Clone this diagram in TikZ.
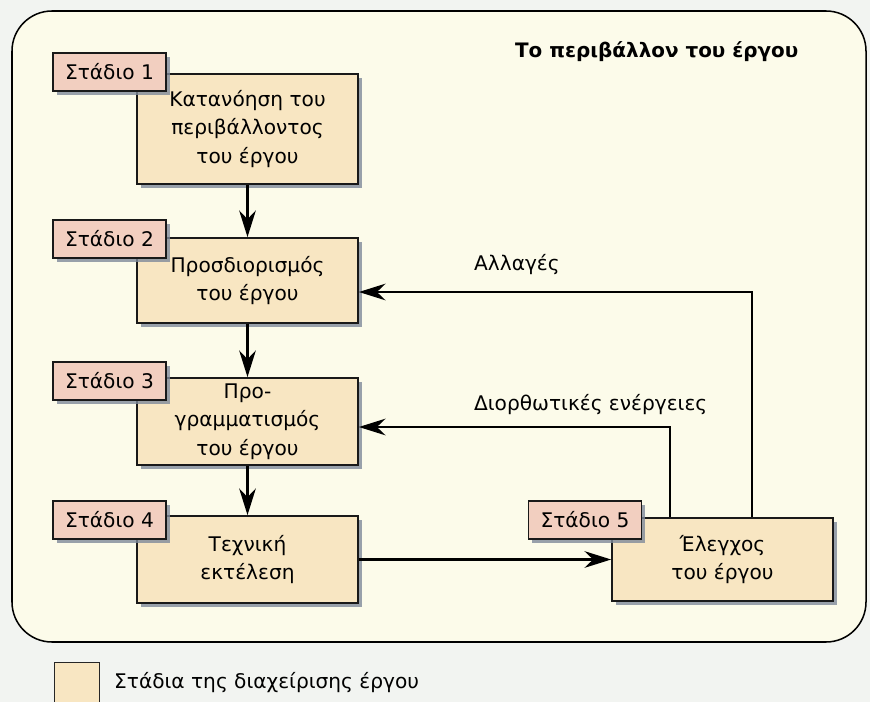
\documentclass[tikz,border=0pt]{standalone}
\usepackage{fontspec}
\setmainfont{DejaVu Sans}
\usetikzlibrary{arrows.meta}
\usetikzlibrary{shadows}
\definecolor{pagebg}{HTML}{F2F4F1}
\definecolor{envfill}{HTML}{FCFBEA}
\definecolor{boxfill}{HTML}{F8E6C2}
\definecolor{lblfill}{HTML}{F2CFC0}
\definecolor{shadowc}{HTML}{7F8A9A}

\begin{document}
\begin{tikzpicture}[x=0.03cm,y=-0.03cm]
\tikzstyle{every node}=[font=\fontsize{17.2}{24.5}\selectfont]
\tikzstyle{stagebox}=[draw=black!90, line width=1.5pt, fill=boxfill, minimum width=6.63cm, align=center, drop shadow={shadow xshift=3pt, shadow yshift=-3pt, fill=shadowc, opacity=0.8}]
\tikzstyle{stagelbl}=[draw=black!90, line width=1.5pt, fill=lblfill, minimum width=3.39cm, minimum height=1.14cm, drop shadow={shadow xshift=3pt, shadow yshift=-3pt, fill=shadowc, opacity=0.8}]
\tikzstyle{arr}=[line width=1.8pt, -{Stealth[length=0.8cm,width=0.5cm]}]
\useasboundingbox (0,0) rectangle (870,702);
\fill[pagebg] (0,0) rectangle (870,702);
% environment
\draw[line width=1.3pt, fill=envfill, rounded corners=1.2cm] (12,11) rectangle (866,642);
\node[font=\fontsize{17}{20}\selectfont\bfseries, anchor=west] (title) at (511,52) {Το περιβάλλον του έργου};
% stages
\node (b1) [stagebox, minimum height=3.3cm] at (247.5,129) {Κατανόηση του\\περιβάλλοντος\\του έργου};
\node (b2) [stagebox, minimum height=2.55cm] at (247.5,280.5) {Προσδιορισμός\\του έργου};
\node (b3) [stagebox, minimum height=2.61cm] at (247.5,421.5) {Προ-\\γραμματισμός\\του έργου};
\node (b4) [stagebox, minimum height=2.61cm] at (247.5,559.5) {Τεχνική\\εκτέλεση};
\node (b5) [stagebox, minimum height=2.49cm] at (722.5,559.5) {Έλεγχος\\του έργου};
\node (s1) [stagelbl] at (109.5,72) {Στάδιο 1};
\node (s2) [stagelbl] at (109.5,239) {Στάδιο 2};
\node (s3) [stagelbl] at (109.5,381) {Στάδιο 3};
\node (s4) [stagelbl] at (109.5,520) {Στάδιο 4};
\node (s5) [stagelbl] at (585,520) {Στάδιο 5};
% flow
\draw[arr] (b1) -- (b2);
\draw[arr] (b2) -- (b3);
\draw[arr] (b3) -- (b4);
\draw[arr] (b4) -- (b5);
\draw[arr] ([xshift=-1.575cm]b5.north) |- ([yshift=-0.165cm]b3.east);
\draw[arr] ([xshift=0.885cm]b5.north) |- ([yshift=-0.345cm]b2.east);
\node (chg) [anchor=west] at (470,265) {Αλλαγές};
\node (corr) [anchor=west] at (470,405) {Διορθωτικές ενέργειες};
% legend
\node (key) [draw=black!85, line width=0.8pt, fill=boxfill, minimum size=1.35cm, anchor=north west] at (54,662) {};
\node (keytxt) [anchor=west] at (110,683) {Στάδια της διαχείρισης έργου};
\end{tikzpicture}
\end{document}
